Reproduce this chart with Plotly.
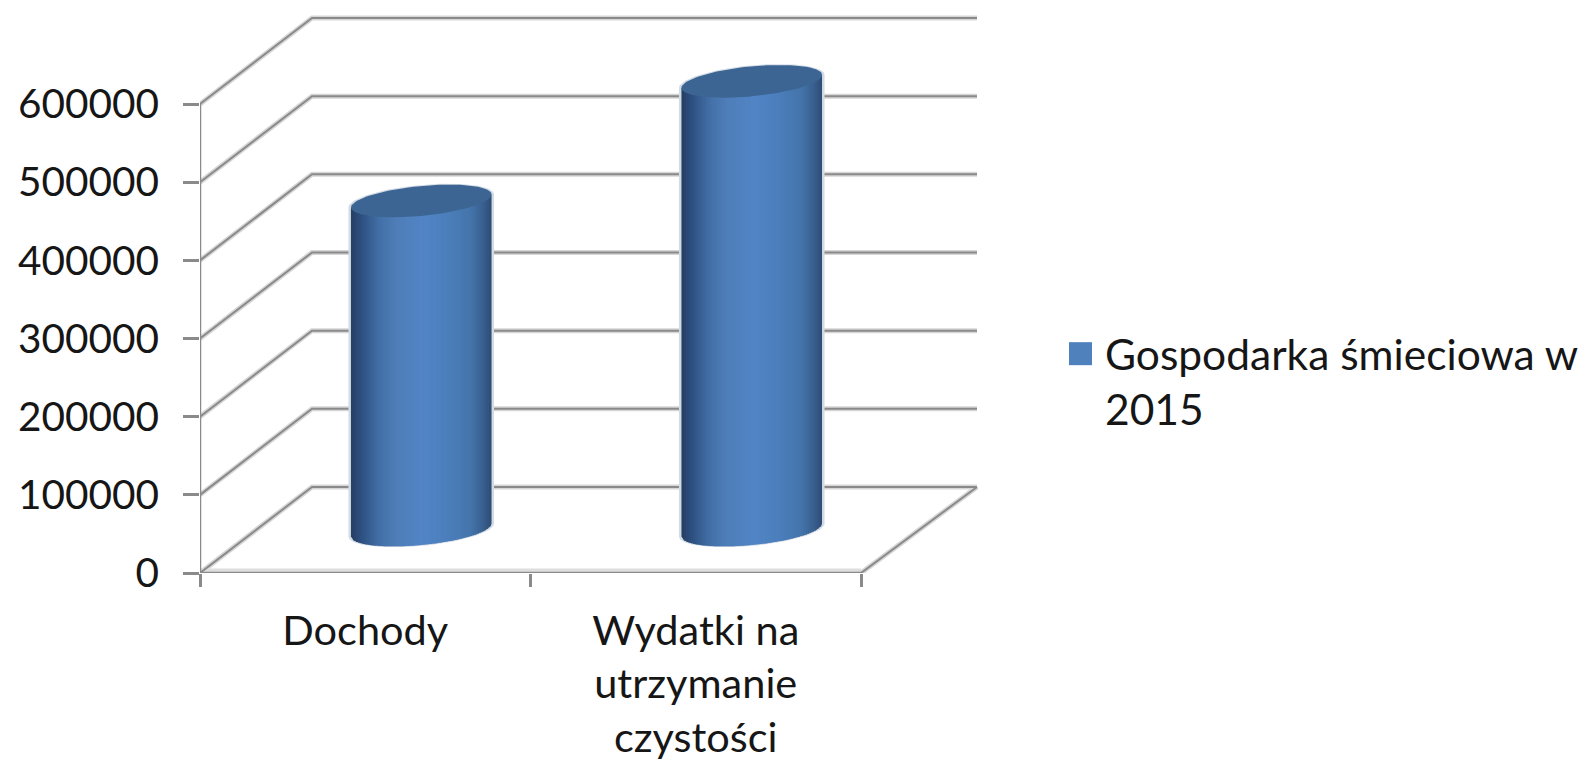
import numpy as np
import plotly.graph_objects as go

# ---- data ----
categories = ["Dochody", "Wydatki na<br>utrzymanie<br>czystości"]
values = [421000, 574000]
y_ticks = [0, 100000, 200000, 300000, 400000, 500000, 600000]
series_name = "Gospodarka śmieciowa w<br>2015"

# ---- page geometry (pixels) ----
W, H = 1587, 766
L, R, T, B = 200, 861, 104, 572.7
PX_X = (R - L) / 2.0
PX_Y = (B - T) / 600000.0
DEPTH_X = 112 / PX_X          # wall offset in x-axis units
DEPTH_X_R = 116 / PX_X        # the right end of the back wall reaches a little further
DEPTH_Y = 86 / PX_Y           # wall offset in y-axis units
RAD_X = 70.3 / PX_X
SHEAR = 6.5 / PX_Y
RAD_D = 15 / PX_Y
TOP_PX = T - 100
RIGHT_PX = R + 125

FONT = "Lato"
TXT = "#161616"
CORE = "#8a8a8a"
HALO = "#d6d6d6"

stops = [(0, "#263f63"), (.08, "#2f5283"), (.2, "#4370a7"), (.32, "#4f7eb8"),
         (.52, "#5285c6"), (.68, "#4c7fbc"), (.85, "#4575ac"), (.94, "#3a6090"), (1, "#2e4d75")]


def shade(f):
    fs = [s[0] for s in stops]
    rgb = [[int(s[1][i:i + 2], 16) for s in stops] for i in (1, 3, 5)]
    return "rgb(%d,%d,%d)" % tuple(np.interp(f, fs, c) for c in rgb)


fig = go.Figure()


def line(xs, ys, color, width):
    fig.add_trace(go.Scatter(x=xs, y=ys, mode="lines", cliponaxis=False, showlegend=False,
                             hoverinfo="skip", line=dict(color=color, width=width)))


# walls: back grid lines, slanted side lines and floor edge
wall_x, wall_y = [], []
for v in y_ticks:
    wall_x += [0.5, 0.5 + DEPTH_X, 2.5 + DEPTH_X_R, None]
    wall_y += [v, v + DEPTH_Y, v + DEPTH_Y, None]
wall_x += [2.5, 2.5 + DEPTH_X_R, None]
wall_y += [0, DEPTH_Y, None]
line(wall_x, wall_y, HALO, 5)
line([0.5 - 2.5 / PX_X, 0.5 - 2.5 / PX_X], [0, 600000], "#cfcfcf", 4)
line([0.5, 2.5], [-2.5 / PX_Y, -2.5 / PX_Y], "#c4c4c4", 4)
line([0.5, 2.5], [2.5 / PX_Y, 2.5 / PX_Y], "#dedede", 4)
line(wall_x, wall_y, CORE, 2)
line([0.5, 0.5], [0, 600000], CORE, 2.5)
line([0.5, 2.5], [0, 0], CORE, 2.5)

# cylinders
t = np.linspace(0, 2 * np.pi, 121)
N = 60
for i, (cat, v) in enumerate(zip(categories, values)):
    cx = i + 1 + DEPTH_X / 2
    base_c = DEPTH_Y / 2
    top_c = v + DEPTH_Y / 2
    # soft halo behind the body
    hx = cx + (RAD_X + 2.5 / PX_X) * np.cos(t)
    hy_up = top_c + SHEAR * np.cos(t) + (RAD_D + 1 / PX_Y) * np.sin(t)
    hy_lo = base_c + SHEAR * np.cos(t) + (RAD_D + 1 / PX_Y) * np.sin(t)
    up = t <= np.pi
    lo = t >= np.pi
    fig.add_trace(go.Scatter(x=np.r_[hx[up], hx[lo]], y=np.r_[hy_up[up], hy_lo[lo]], mode="lines",
                             fill="toself", fillcolor="#d3dbe5", line=dict(width=0), cliponaxis=False,
                             showlegend=False, hoverinfo="skip"))
    # body: narrow vertical strips with a horizontal shading
    edges = np.linspace(-1, 1, N + 1)
    for a, b in zip(edges[:-1], edges[1:]):
        m = np.linspace(a, min(b + 0.6 * 2 / N, 1), 4)
        low = base_c + SHEAR * m - RAD_D * np.sqrt(np.clip(1 - m ** 2, 0, 1))
        top = top_c + SHEAR * m
        fig.add_trace(go.Scatter(x=np.r_[cx + RAD_X * m, (cx + RAD_X * m)[::-1]], y=np.r_[low, top[::-1]],
                                 mode="lines", fill="toself", fillcolor=shade((a + b + 2) / 4),
                                 line=dict(width=0), cliponaxis=False, showlegend=False, hoverinfo="skip"))
    # top face
    fig.add_trace(go.Scatter(x=cx + RAD_X * np.cos(t), y=top_c + SHEAR * np.cos(t) + RAD_D * np.sin(t),
                             mode="lines", fill="toself", fillcolor="#3c6593", line=dict(width=0),
                             cliponaxis=False, showlegend=False, hoverinfo="skip", name=cat.replace("<br>", " ")))

AXIS_FONT_Y = dict(family=FONT, size=40.5, color=TXT)
AXIS_FONT_X = dict(family=FONT, size=41.5, color=TXT)
LEGEND_FONT = dict(family=FONT, size=42.5, color=TXT)
P_W = RIGHT_PX - L
P_H = B - TOP_PX
fig.update_layout(
    width=W, height=H, autosize=False,
    margin=dict(l=L, r=W - RIGHT_PX, t=TOP_PX, b=H - B, pad=0),
    paper_bgcolor="white", plot_bgcolor="rgba(0,0,0,0)",
    showlegend=False,
    xaxis=dict(range=[0.5, 0.5 + P_W / PX_X], tickmode="array", tickvals=[1, 2], ticktext=categories,
               ticks="", showgrid=False, zeroline=False, showline=False,
               tickfont=AXIS_FONT_X, ticklabelstandoff=29,
               minor=dict(tickmode="array", tickvals=[0.5, 1.5, 2.5], ticks="outside", ticklen=13,
                          tickwidth=3, tickcolor=CORE, showgrid=False)),
    yaxis=dict(range=[0, P_H / PX_Y], tickmode="array", tickvals=y_ticks, ticktext=[str(v) for v in y_ticks],
               ticks="outside", ticklen=16, tickwidth=3, tickcolor=CORE, showgrid=False, zeroline=False,
               showline=False, tickfont=AXIS_FONT_Y, ticklabelstandoff=16),
    shapes=[dict(type="rect", xref="paper", yref="paper", layer="above",
                 x0=(1069 - L) / P_W, x1=(1092 - L) / P_W,
                 y0=(B - 365) / P_H, y1=(B - 342) / P_H,
                 fillcolor="#4f81bd", line=dict(width=0))],
    annotations=[dict(xref="paper", yref="paper", x=(1103 - L) / P_W, y=(B - 326) / P_H,
                      xanchor="left", yanchor="top", align="left", showarrow=False, text=series_name,
                      font=LEGEND_FONT)],
)
fig.write_html("out.html", post_script="document.body.style.margin='0';", config=dict(displayModeBar=False))
